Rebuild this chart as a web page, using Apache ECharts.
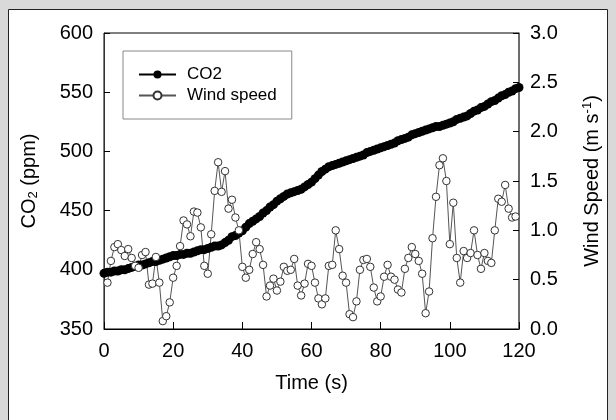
<!DOCTYPE html>
<html>
<head>
<meta charset="utf-8">
<script src="https://cdn.jsdelivr.net/npm/echarts@6/dist/echarts.min.js"></script>
<style>
  html, body { margin: 0; padding: 0; background: #d9d9d9; }
  #chart { width: 616px; height: 420px; }
</style>
</head>
<body>
<div id="chart"></div>
<script>
// CO2 concentration (ppm), one reading per second, t = 0..120
const co2 = [
  397, 398, 398, 399, 399, 400, 400, 401, 402, 403, 404,
  404, 405, 406, 407, 407, 408, 409, 410, 411, 412,
  412, 413, 413, 414, 414, 415, 416, 417, 417, 418,
  419, 420, 420, 421, 423, 425, 428, 429, 431, 433,
  436, 439, 441, 443, 445, 448, 450, 453, 455, 458,
  460, 462, 464, 465, 466, 467, 468, 470, 472, 474,
  477, 480, 483, 485, 487, 488, 489, 490, 491, 492,
  493, 494, 495, 496, 497, 499, 500, 501, 502, 503,
  504, 505, 506, 507, 509, 510, 511, 512, 514, 515,
  516, 517, 518, 519, 520, 521, 521, 522, 523, 524,
  525, 527, 528, 529, 530, 532, 534, 535, 537, 538,
  540, 542, 543, 545, 547, 548, 550, 551, 553, 554, 556
]

// wind speed (m/s), t = 1..119
const wind = [
  0.47, 0.69, 0.83, 0.86, 0.80, 0.74, 0.81, 0.72, 0.64, 0.62,
  0.75, 0.78, 0.45, 0.46, 0.73, 0.47, 0.08, 0.13, 0.27, 0.52,
  0.64, 0.84, 1.10, 1.06, 0.94, 1.19, 1.18, 1.03, 0.64, 0.56,
  0.96, 1.40, 1.69, 1.39, 1.60, 1.22, 1.31, 1.13, 1.00, 0.63,
  0.52, 0.60, 0.76, 0.88, 0.81, 0.65, 0.33, 0.44, 0.51, 0.39,
  0.48, 0.63, 0.59, 0.60, 0.71, 0.44, 0.34, 0.46, 0.66, 0.64,
  0.47, 0.31, 0.25, 0.31, 0.64, 0.65, 1.00, 0.81, 0.54, 0.47,
  0.15, 0.12, 0.28, 0.60, 0.70, 0.71, 0.63, 0.42, 0.28, 0.33,
  0.53, 0.65, 0.53, 0.50, 0.40, 0.37, 0.61, 0.72, 0.83, 0.76,
  0.69, 0.56, 0.16, 0.38, 0.92, 1.34, 1.66, 1.73, 1.50, 0.86,
  1.28, 0.72, 0.47, 0.79, 0.72, 0.77, 1.00, 0.75, 0.61, 0.77,
  0.69, 0.67, 1.00, 1.32, 1.29, 1.46, 1.22, 1.13, 1.14
]

const co2Start = 0
const windStart = 1

const font = 'Liberation Sans, Arial, sans-serif'
const chart = echarts.init(document.getElementById('chart'), null, { renderer: 'canvas' })

const option = {
  animation: false,
  backgroundColor: '#d9d9d9',
  textStyle: { fontFamily: font, color: '#000' },
  // white panel with dark frame
  graphic: [{
    type: 'rect',
    z: -10,
    shape: { x: 8.5, y: 9.5, width: 599, height: 420 },
    style: { fill: '#fff', stroke: '#222', lineWidth: 1 }
  }],
  grid: {
    left: 104, right: 97, top: 33, bottom: 91,
    show: true, borderColor: '#000', borderWidth: 1, backgroundColor: 'transparent'
  },
  legend: {
    left: 123, top: 51,
    orient: 'vertical',
    itemWidth: 37, itemHeight: 10, itemGap: 4,
    padding: [15, 15, 15, 15],
    borderColor: '#888', borderWidth: 1,
    textStyle: { fontFamily: font, fontSize: 17, color: '#000', padding: [0, 0, 0, 6] },
    data: ['CO2', 'Wind speed']
  },
  xAxis: {
    type: 'value', min: 0, max: 120, interval: 20,
    name: 'Time (s)', nameLocation: 'middle', nameGap: 44,
    nameTextStyle: { fontFamily: font, fontSize: 20, color: '#000' },
    axisLine: { lineStyle: { color: '#000', width: 1 } },
    axisTick: { inside: true, length: 7, lineStyle: { color: '#000' } },
    axisLabel: { margin: 12, fontSize: 20, color: '#000', fontFamily: font },
    splitLine: { show: false }
  },
  yAxis: [{
    type: 'value', min: 350, max: 600, interval: 50, position: 'left',
    name: '{a|CO}{s|2}{a| (ppm)}', nameLocation: 'middle', nameGap: 64, nameRotate: 90,
    nameTextStyle: {
      rich: {
        a: { fontFamily: font, fontSize: 20, color: '#000' },
        s: { fontFamily: font, fontSize: 13, color: '#000', padding: [9, 0, 0, 0] }
      }
    },
    axisLine: { show: true, lineStyle: { color: '#333', width: 1 } },
    axisTick: { inside: true, length: 6, lineStyle: { color: '#000' } },
    axisLabel: { margin: 11, fontSize: 20, color: '#000', fontFamily: font },
    splitLine: { show: false }
  }, {
    type: 'value', min: 0, max: 3, interval: 0.5, position: 'right',
    name: '{a|Wind Speed (m s}{p|-1}{a|)}', nameLocation: 'middle', nameGap: 62, nameRotate: 90,
    nameTextStyle: {
      rich: {
        a: { fontFamily: font, fontSize: 20, color: '#000' },
        p: { fontFamily: font, fontSize: 13, color: '#000', padding: [0, 0, 9, 0] }
      }
    },
    axisLine: { show: true, lineStyle: { color: '#666', width: 1.5 } },
    axisTick: { inside: true, length: 6, lineStyle: { color: '#000' } },
    axisLabel: {
      margin: 11, fontSize: 20, color: '#000', fontFamily: font,
      formatter: v => v.toFixed(1)
    },
    splitLine: { show: false }
  }],
  series: [{
    name: 'CO2',
    type: 'line',
    yAxisIndex: 0,
    data: co2.map((v, i) => [co2Start + i, v]),
    symbol: 'circle', symbolSize: 9, showAllSymbol: true,
    itemStyle: { color: '#000' },
    lineStyle: { color: '#000', width: 2 }
  }, {
    name: 'Wind speed',
    type: 'line',
    yAxisIndex: 1,
    data: wind.map((v, i) => [windStart + i, v]),
    symbol: 'circle', symbolSize: 7.5, showAllSymbol: true,
    itemStyle: { color: '#fff', borderColor: '#333', borderWidth: 1 },
    lineStyle: { color: '#555', width: 1 }
  }]
}

chart.setOption(option)
</script>
</body>
</html>
